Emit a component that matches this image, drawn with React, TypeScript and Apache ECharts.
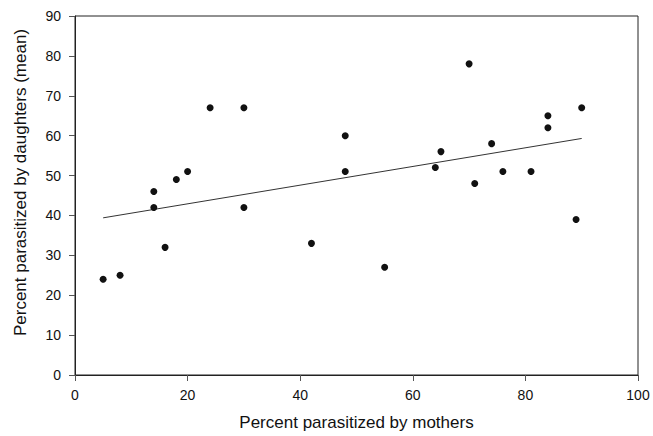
import React, { useEffect, useRef } from "react";
import * as echarts from "echarts";

const motherPct: number[] = [5, 8, 14, 14, 16, 18, 20, 24, 30, 30, 42, 48, 48, 55, 64, 65, 70, 71, 74, 76, 81, 84, 84, 89, 90];
const daughterPct: number[] = [24, 25, 46, 42, 32, 49, 51, 67, 67, 42, 33, 60, 51, 27, 52, 56, 78, 48, 58, 51, 51, 65, 62, 39, 67];
const fitX: number[] = [5, 90];
const fitY: number[] = [39.4, 59.3];

const xTitle = "Percent parasitized by mothers";
const yTitle = "Percent parasitized by daughters (mean)";

const FONT = "'Liberation Sans', Arial, Helvetica, sans-serif";

export default function App() {
  const ref = useRef<HTMLDivElement>(null);
  useEffect(() => {
    if (!ref.current) return;
    const chart = echarts.init(ref.current, null, { renderer: "svg" });
    const points = motherPct.map((x, i) => [x, daughterPct[i]]);
    const fit = fitX.map((x, i) => [x, fitY[i]]);
    chart.setOption({
      animation: false,
      backgroundColor: "#ffffff",
      grid: {
        left: 75,
        right: 15,
        top: 16,
        bottom: 57,
        show: true,
        borderColor: "#222",
        borderWidth: 1,
      },
      xAxis: {
        type: "value",
        min: 0,
        max: 100,
        interval: 20,
        name: xTitle,
        nameLocation: "middle",
        nameGap: 39,
        nameTextStyle: { fontFamily: FONT, fontSize: 17, color: "#111" },
        axisLine: { show: true, onZero: false, lineStyle: { color: "#222", width: 1 } },
        axisTick: { show: true, inside: false, length: 6, lineStyle: { color: "#555" } },
        axisLabel: { margin: 13, fontFamily: FONT, fontSize: 14, color: "#111" },
        splitLine: { show: false },
      },
      yAxis: {
        type: "value",
        min: 0,
        max: 90,
        interval: 10,
        name: yTitle,
        nameLocation: "middle",
        nameGap: 46,
        nameTextStyle: { fontFamily: FONT, fontSize: 17, color: "#111", padding: [0, 0, 0, 26] },
        axisLine: { show: true, onZero: false, lineStyle: { color: "#222", width: 1 } },
        axisTick: { show: true, inside: false, length: 6, lineStyle: { color: "#555" } },
        axisLabel: { margin: 14, fontFamily: FONT, fontSize: 14, color: "#111" },
        splitLine: { show: false },
      },
      series: [
        {
          type: "line",
          data: fit,
          showSymbol: false,
          symbol: "none",
          lineStyle: { color: "#333", width: 1 },
          silent: true,
          z: 2,
        },
        {
          type: "scatter",
          data: points,
          symbol: "circle",
          symbolSize: 7,
          itemStyle: { color: "#111", opacity: 1 },
          z: 3,
        },
      ],
    });
    return () => chart.dispose();
  }, []);
  return (
    <div
      ref={ref}
      style={{ position: "fixed", left: 0, top: 0, width: 653, height: 436, background: "#fff" }}
    />
  );
}
